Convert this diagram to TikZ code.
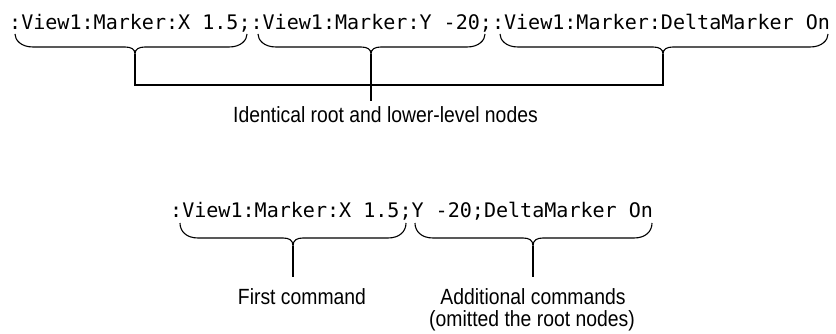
\documentclass[tikz,border=0pt]{standalone}
\usepackage{fontspec}
\setmainfont{Liberation Sans}[FakeStretch=0.88]
\newfontfamily\codefont{DejaVu Sans Mono}
% #1 left x, #2 right x, #3 tip x, #4 end y, #5 horizontal y, #6 tip y, #7 tip name
\newcommand\cmdbrace[7]{%
  \coordinate (#7) at (#3,#6);
  \draw[brc] (#1,#4) .. controls (#1,#5-7) and (#1+6,#5) .. (#1+18,#5)
    -- (#3-10,#5) .. controls (#3-4,#5) and (#3,#5+2) .. (#7)
    .. controls (#3,#5+2) and (#3+4,#5) .. (#3+10,#5)
    -- (#2-18,#5) .. controls (#2-6,#5) and (#2,#5-7) .. (#2,#4);
}
\begin{document}
\begin{tikzpicture}[x=1pt,y=-1pt,
  brc/.style={line width=1.1pt},
  conn/.style={line width=1.2pt},
  code/.style={font=\codefont\fontsize{20.05}{24}\selectfont, inner sep=0pt, anchor=base west},
  lbl/.style={font=\fontsize{22}{24}\selectfont, inner sep=0pt, anchor=base}]
\useasboundingbox (0,0) rectangle (836,334);

% top example
\node[code] (topcmd) at (9,30) {:View1:Marker:X 1.5;:View1:Marker:Y -20;:View1:Marker:DeltaMarker On};
\cmdbrace{15}{247}{135}{34}{47}{54}{ta}
\cmdbrace{258}{485}{371}{34}{47}{54}{tb}
\cmdbrace{500}{828}{663}{34}{47}{54}{tc}
\node[lbl] (idl) at (385.5,123) {Identical root and lower-level nodes};
\coordinate (ja) at (135,85);
\coordinate (jc) at (663,85);
\coordinate (jb) at (371,101);
\draw[conn] (ta) -- (ja) -- (jc) -- (tc);
\draw[conn] (tb) -- (jb);

% bottom example
\node[code] (botcmd) at (170,218) {:View1:Marker:X 1.5;Y -20;DeltaMarker On};
\cmdbrace{180}{406}{293}{223}{238}{246}{ba}
\cmdbrace{415}{652}{533}{223}{238}{246}{bb}
\coordinate (ea) at (293,277);
\coordinate (eb) at (533,277);
\draw[conn] (ba) -- (ea);
\draw[conn] (bb) -- (eb);
\node[lbl] (fcl) at (302,304) {First command};
\node[lbl] (acl) at (533,304) {Additional commands};
\node[lbl] (acl2) at (532,326) {(omitted the root nodes)};
\end{tikzpicture}
\end{document}
